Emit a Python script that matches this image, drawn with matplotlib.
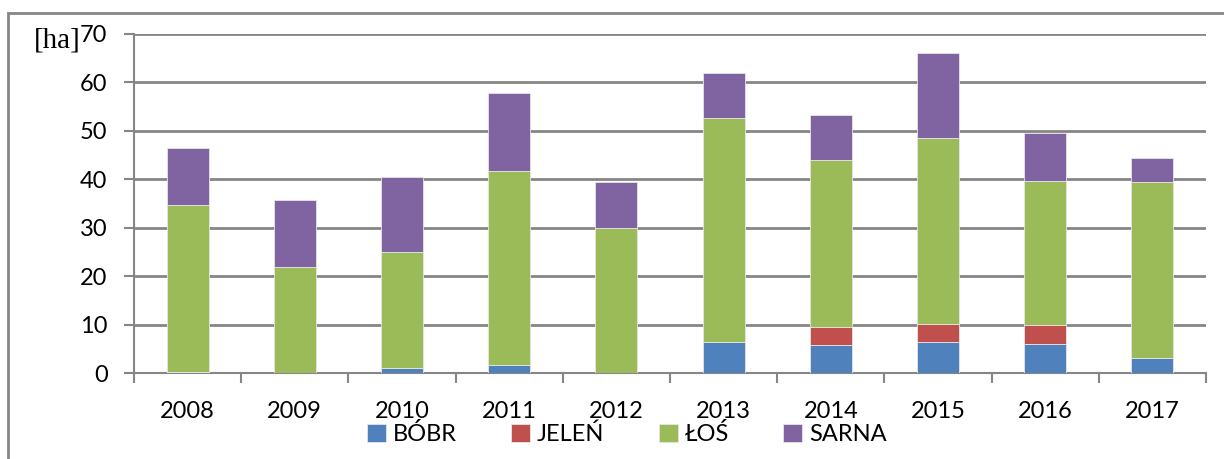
import matplotlib.pyplot as plt
import numpy as np
from matplotlib.patches import Rectangle

# Dane (ha)
lata = ["2008", "2009", "2010", "2011", "2012", "2013", "2014", "2015", "2016", "2017"]
bobr = [0.2, 0.0, 1.0, 1.6, 0.0, 6.4, 5.8, 6.4, 6.0, 3.1]
jelen = [0.0, 0.0, 0.0, 0.0, 0.0, 0.0, 3.7, 3.7, 3.9, 0.0]
los = [34.4, 21.8, 23.9, 40.2, 30.0, 46.3, 34.4, 38.5, 29.8, 36.4]
sarna = [11.9, 14.0, 15.5, 16.1, 9.5, 9.3, 9.4, 17.5, 9.9, 4.8]

serie = [("BÓBR", bobr, "#4F81BD"), ("JELEŃ", jelen, "#C0504D"),
         ("ŁOŚ", los, "#9BBB59"), ("SARNA", sarna, "#8064A2")]

plt.rcParams["font.family"] = ["Lato", "DejaVu Sans"]

W, H = 1224, 459
fig = plt.figure(figsize=(W / 100, H / 100), dpi=100)
ax = fig.add_axes([134 / W, 1 - 373 / H, (1206 - 134) / W, (373 - 34) / H])

x = np.arange(len(lata))
dol = np.zeros(len(lata))
for nazwa, wart, kolor in serie:
    ax.bar(x, wart, bottom=dol, width=0.39, color=kolor, label=nazwa,
           edgecolor="#E6E6E6", linewidth=0.6, zorder=3)
    dol += np.array(wart)

ax.set_xlim(-0.5, len(lata) - 0.5)
ax.set_ylim(0, 70)
ax.set_yticks(range(0, 71, 10))
ax.set_xticks(np.arange(-0.5, len(lata), 1), minor=False)
ax.set_xticklabels([])
ax.set_xticks(x, minor=True)
ax.set_xticklabels(lata, minor=True)
ax.tick_params(axis="x", which="major", length=7, width=1.5, color="#868686")
ax.tick_params(axis="x", which="minor", length=0, pad=20, labelsize=17)
ax.tick_params(axis="y", length=7, width=1.5, color="#868686", labelsize=17, pad=12)
ax.grid(axis="y", color="#868686", linewidth=2, zorder=0)
for s in ["top", "right"]:
    ax.spines[s].set_visible(False)
for s in ["left", "bottom"]:
    ax.spines[s].set_color("#868686")
    ax.spines[s].set_linewidth(1.5)

fig.text(34 / W, 1 - 40 / H, "[ha]", family=["Liberation Serif", "DejaVu Serif"],
         fontsize=21, va="center", ha="left")

fig.legend(loc="center", bbox_to_anchor=(627 / W, 1 - 434 / H), ncol=4,
           frameon=False, fontsize=17, handlelength=0.8, handleheight=0.8,
           handletextpad=0.3, columnspacing=2.3, borderpad=0)

# ramka wykresu
fig.patches.append(Rectangle((8 / W, -0.1), 1.2, 1 - 13 / H + 0.1,
                             transform=fig.transFigure, fill=False,
                             edgecolor="#868686", linewidth=2))

fig.savefig("out.png", dpi=100)
